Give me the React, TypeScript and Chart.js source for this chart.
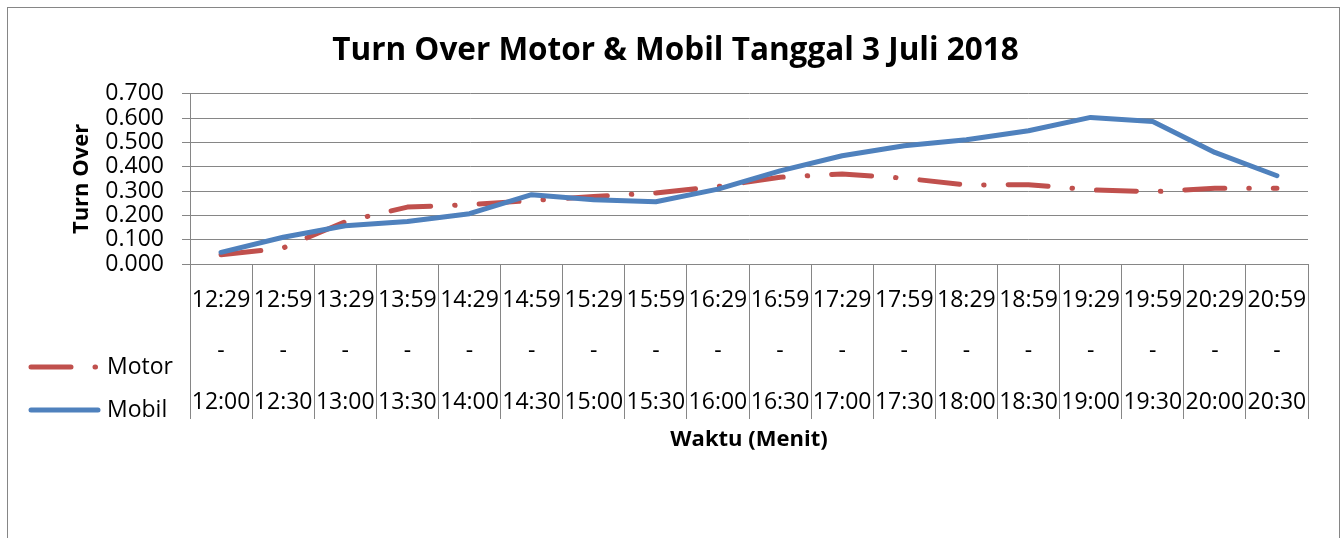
import React, { useEffect, useRef } from "react";
import { Chart, registerables } from "chart.js";

Chart.register(...registerables);

const timeEnd = ["12:29","12:59","13:29","13:59","14:29","14:59","15:29","15:59","16:29","16:59","17:29","17:59","18:29","18:59","19:29","19:59","20:29","20:59"];
const timeStart = ["12:00","12:30","13:00","13:30","14:00","14:30","15:00","15:30","16:00","16:30","17:00","17:30","18:00","18:30","19:00","19:30","20:00","20:30"];
const motor = [0.038, 0.066, 0.174, 0.234, 0.244, 0.261, 0.278, 0.292, 0.319, 0.357, 0.370, 0.353, 0.325, 0.326, 0.305, 0.297, 0.312, 0.312];
const mobil = [0.048, 0.110, 0.157, 0.175, 0.207, 0.285, 0.264, 0.256, 0.308, 0.383, 0.445, 0.486, 0.511, 0.548, 0.603, 0.586, 0.459, 0.363];
const seriesNames = ["Motor", "Mobil"];
const chartTitle = "Turn Over Motor & Mobil Tanggal 3 Juli 2018";
const yTitle = "Turn Over";
const xTitle = "Waktu (Menit)";

const FONT = '"Open Sans", "Liberation Sans", sans-serif';
const GRID = "#868686";
const RED = "#C0504D";
const BLUE = "#4F81BD";

const sideLegend = {
  id: "sideLegend",
  afterDraw(chart: any) {
    const ctx = chart.ctx;
    chart.data.datasets.forEach((ds: any, i: number) => {
      const y = 367 + i * 43;
      ctx.save();
      ctx.strokeStyle = ds.borderColor;
      ctx.lineWidth = ds.borderWidth;
      ctx.lineCap = "round";
      ctx.setLineDash(ds.borderDash || []);
      ctx.beginPath();
      ctx.moveTo(31, y);
      ctx.lineTo(98, y);
      ctx.stroke();
      ctx.setLineDash([]);
      ctx.fillStyle = "#000";
      ctx.font = `23px ${FONT}`;
      ctx.textBaseline = "middle";
      ctx.textAlign = "left";
      ctx.fillText(ds.label, 107, y);
      ctx.restore();
    });
  },
};

export default function App() {
  const ref = useRef<HTMLCanvasElement>(null);
  useEffect(() => {
    document.body.style.margin = "0";
    document.body.style.overflow = "hidden";
    const labels = timeEnd.map((e, i) => [e, "-", timeStart[i]]);
    const chart = new Chart(ref.current!, {
      type: "line",
      data: {
        labels,
        datasets: [
          {
            label: seriesNames[0],
            data: motor,
            borderColor: RED,
            backgroundColor: RED,
            borderWidth: 5,
            borderDash: [40, 24, 0.5, 24],
            borderCapStyle: "round",
            borderJoinStyle: "round",
            pointRadius: 0,
            tension: 0,
            order: 1,
          },
          {
            label: seriesNames[1],
            data: mobil,
            borderColor: BLUE,
            backgroundColor: BLUE,
            borderWidth: 5,
            borderCapStyle: "round",
            borderJoinStyle: "round",
            pointRadius: 0,
            tension: 0,
            order: 0,
          },
        ],
      },
      options: {
        responsive: false,
        animation: false,
        layout: { padding: { left: 7, right: 0, top: 0, bottom: 0 } },
        plugins: {
          legend: { display: false },
          tooltip: { enabled: false },
          title: {
            display: true,
            text: chartTitle,
            color: "#000",
            font: { family: FONT, size: 31.5, weight: "bold", lineHeight: 1.2 },
            padding: { top: 32, bottom: 24 },
          },
        },
        scales: {
          x: {
            type: "category",
            offset: true,
            grid: {
              offset: true,
              drawOnChartArea: false,
              drawTicks: true,
              tickLength: 155,
              color: GRID,
              lineWidth: 1,
            },
            border: { display: true, color: GRID },
            ticks: {
              color: "#000",
              font: { family: FONT, size: 23, lineHeight: 2.22 },
              padding: -144,
              maxRotation: 0,
              minRotation: 0,
              autoSkip: false,
            },
            title: {
              display: true,
              text: xTitle,
              color: "#000",
              font: { family: FONT, size: 22, weight: "bold", lineHeight: 1.2 },
              padding: { top: 0, bottom: 85 },
            },
            afterFit(scale: any) {
              scale.height = 274;
            },
          },
          y: {
            min: 0,
            max: 0.7,
            grid: { color: GRID, lineWidth: 1, tickLength: 8 },
            border: { display: true, color: GRID },
            ticks: {
              stepSize: 0.1,
              autoSkip: false,
              color: "#000",
              font: { family: FONT, size: 23, lineHeight: 1 },
              padding: 18,
              callback: (v: any) => Number(v).toFixed(3),
            },
            title: {
              display: true,
              text: yTitle,
              color: "#000",
              font: { family: FONT, size: 22, weight: "bold", lineHeight: 1.2 },
              padding: { top: 62, bottom: 0 },
            },
            afterFit(scale: any) {
              scale.width = 183;
            },
          },
          yRight: {
            position: "right",
            display: true,
            min: 0,
            max: 0.7,
            grid: { display: false, drawTicks: false },
            border: { display: false },
            ticks: { display: false },
            afterFit(scale: any) {
              scale.width = 36;
            },
          },
        },
      },
      plugins: [sideLegend],
    });
    return () => chart.destroy();
  }, []);

  return (
    <div style={{ position: "relative", width: 1344, height: 538, overflow: "hidden", background: "#fff" }}>
      <div
        style={{
          position: "absolute",
          left: 7,
          top: 7,
          width: 1333,
          height: 640,
          border: `1px solid ${GRID}`,
          boxSizing: "border-box",
        }}
      />
      <canvas ref={ref} width={1344} height={538} style={{ position: "absolute", left: 0, top: 0 }} />
    </div>
  );
}
